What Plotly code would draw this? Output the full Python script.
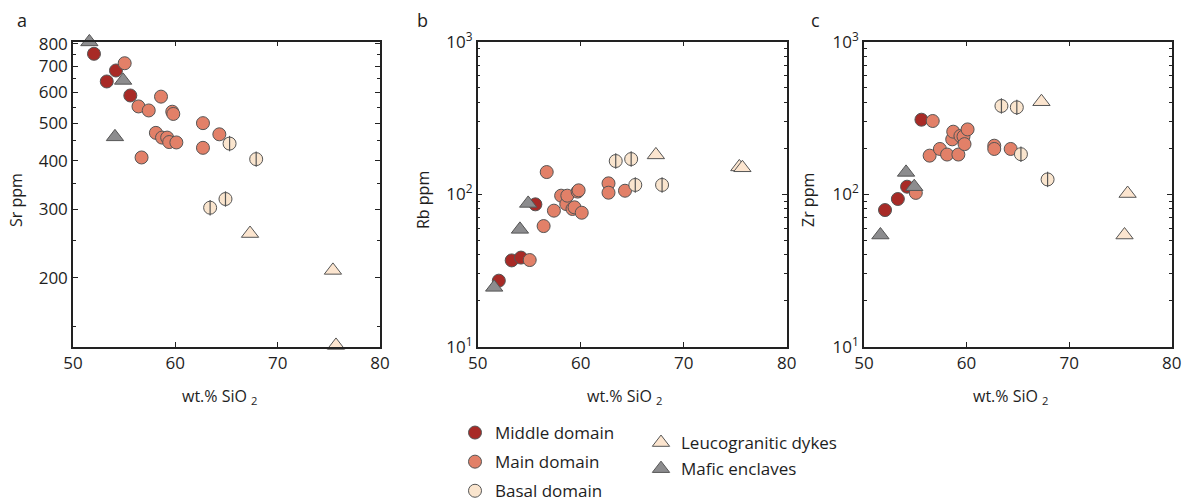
import numpy as np
import plotly.graph_objects as go

# ---------------- data ----------------
middle_sio2 = [52.05, 53.3, 54.2, 55.6]
middle_sr = [754, 640, 683, 589]
middle_rb = [27.1, 36.8, 38.4, 85.8]
middle_zr = [78.7, 93, 112, 308]

main_sio2 = [55.05, 56.4, 56.7, 57.4, 58.1, 58.6, 58.7, 59.2, 59.4, 59.7, 59.8, 60.1, 62.7, 62.7, 64.3]
main_sr = [713, 552, 408, 539, 472, 585, 459, 459, 447, 535, 528, 446, 500, 432, 468]
main_rb = [37, 61.8, 139.7, 78, 97.8, 86.2, 97.8, 80, 82, 104, 106, 75.6, 117.8, 102.3, 105.4]
main_zr = [102, 179, 302, 198, 182, 229, 257, 182, 241, 239, 213, 266, 208, 198, 198]

basal_sio2 = [63.4, 64.9, 65.3, 67.9]
basal_sr = [303, 319, 443, 404]
basal_rb = [165, 170, 115, 115]
basal_zr = [379, 371, 183, 125]

leuco_sio2 = [67.3, 75.4, 75.7]
leuco_sr = [260, 209, 134]
leuco_rb = [181, 151, 149]
leuco_zr = [404, 54, 101]

mafic_sio2 = [51.6, 54.1, 54.9]
mafic_sr = [809, 461, 644]
mafic_rb = [24.5, 58.8, 87]
mafic_zr = [54, 139, 112]

panel_labels = ["a", "b", "c"]
y_titles = ["Sr ppm", "Rb ppm", "Zr ppm"]
x_title = "wt.% SiO <sub>2</sub>"
x_ticks = [50, 60, 70, 80]
sr_major = [200, 300, 400, 500, 600, 700, 800]
sr_minor = [150, 250, 350, 450, 550, 650, 750]
log_major = [10, 100, 1000]
log_major_text = ["10<sup>1</sup>", "10<sup>2</sup>", "10<sup>3</sup>"]
log_minor = [20, 30, 40, 50, 60, 70, 80, 90, 200, 300, 400, 500, 600, 700, 800, 900]

# ---------------- styles ----------------
FONT = "Open Sans"
TXT = "#1e1e1e"
EDGE = "#555555"
C_MIDDLE = "rgb(168,42,38)"
C_MAIN = "rgb(226,128,104)"
C_BASAL = "rgb(250,229,206)"
C_LEUCO = "rgb(252,229,207)"
C_MAFIC = "rgb(140,140,142)"
MS = 13

W, H = 1194, 502
x_px = [(73, 380), (477.7, 786.7), (864, 1171.7)]
x_doms = [[a / W, b / W] for a, b in x_px]
y_dom = [1 - 346.7 / H, 1 - 41.7 / H]

fig = go.Figure()

groups = [
    ("Middle domain", middle_sio2, [middle_sr, middle_rb, middle_zr], "circle", C_MIDDLE, "legend"),
    ("Main domain", main_sio2, [main_sr, main_rb, main_zr], "circle", C_MAIN, "legend"),
    ("Basal domain", basal_sio2, [basal_sr, basal_rb, basal_zr], "circle", C_BASAL, "legend"),
    ("Leucogranitic dykes", leuco_sio2, [leuco_sr, leuco_rb, leuco_zr], "triangle-up", C_LEUCO, "legend2"),
    ("Mafic enclaves", mafic_sio2, [mafic_sr, mafic_rb, mafic_zr], "triangle-up", C_MAFIC, "legend2"),
]

for p in range(3):
    xa = "x" if p == 0 else f"x{p+1}"
    ya = "y" if p == 0 else f"y{p+1}"
    for name, xs, ys, sym, col, leg in groups:
        size = MS + 2 if sym.startswith("triangle") else MS
        fig.add_trace(go.Scatter(
            x=xs, y=ys[p], mode="markers", name=name, legendgroup=name,
            showlegend=(p == 0), legend=leg, xaxis=xa, yaxis=ya, cliponaxis=False,
            marker=dict(symbol=sym, size=size, color=col, line=dict(color=EDGE, width=1)),
        ))
        if name == "Basal domain":
            fig.add_trace(go.Scatter(
                x=xs, y=ys[p], mode="markers", name=name, legendgroup=name,
                showlegend=False, xaxis=xa, yaxis=ya, cliponaxis=False, hoverinfo="skip",
                marker=dict(symbol="line-ns", size=MS - 2, color=EDGE, line=dict(color=EDGE, width=1.2)),
            ))

axis_common = dict(
    showline=True, linecolor="#222222", linewidth=1.5, mirror="allticks",
    ticks="inside", ticklen=5, tickwidth=1, tickcolor="#222222",
    showgrid=False, zeroline=False, automargin=False,
    tickfont=dict(family=FONT, size=17, color=TXT),
)

layout = dict(
    template="simple_white",
    width=W, height=H, margin=dict(l=0, r=0, t=0, b=0, autoexpand=False),
    paper_bgcolor="white", plot_bgcolor="white",
    font=dict(family=FONT, color=TXT),
    legend=dict(x=455 / W, y=1 - 415 / H, xanchor="left", yanchor="top",
                font=dict(family=FONT, size=17, color=TXT), tracegroupgap=4,
                bgcolor="rgba(0,0,0,0)"),
    legend2=dict(x=641 / W, y=1 - 425 / H, xanchor="left", yanchor="top",
                 font=dict(family=FONT, size=17, color=TXT), tracegroupgap=1,
                 bgcolor="rgba(0,0,0,0)"),
)

annotations = []
for p in range(3):
    xk = "xaxis" if p == 0 else f"xaxis{p+1}"
    yk = "yaxis" if p == 0 else f"yaxis{p+1}"
    ya = "y" if p == 0 else f"y{p+1}"
    xa = "x" if p == 0 else f"x{p+1}"
    layout[xk] = dict(axis_common, domain=x_doms[p], range=[50, 80], tickvals=x_ticks, anchor=ya)
    if p == 0:
        layout[yk] = dict(axis_common, domain=y_dom, type="log",
                          range=[np.log10(133), np.log10(810)],
                          tickvals=sr_major, ticktext=[str(v) for v in sr_major], anchor=xa,
                          minor=dict(ticks="inside", ticklen=3, tickvals=sr_minor, tickcolor="#222222"))
    else:
        layout[yk] = dict(axis_common, domain=y_dom, type="log", range=[1, 3],
                          tickvals=log_major, ticktext=log_major_text, anchor=xa,
                          minor=dict(ticks="inside", ticklen=3, tickvals=log_minor, tickcolor="#222222"))

label_x = [22, 422, 815]
title_x = [16, 423, 808]
for p in range(3):
    annotations.append(dict(text=panel_labels[p], x=label_x[p] / W, y=1 - 20 / H, xref="paper", yref="paper",
                            showarrow=False, font=dict(family=FONT, size=18, color=TXT),
                            xanchor="center", yanchor="middle"))
    annotations.append(dict(text=y_titles[p], x=title_x[p] / W, y=1 - 200 / H, xref="paper", yref="paper",
                            showarrow=False, textangle=-90, font=dict(family=FONT, size=16, color=TXT),
                            xanchor="center", yanchor="middle"))
    cx = (x_px[p][0] + x_px[p][1]) / 2 - 7
    annotations.append(dict(text=x_title, x=cx / W, y=1 - 396 / H, xref="paper", yref="paper",
                            showarrow=False, font=dict(family=FONT, size=16, color=TXT),
                            xanchor="center", yanchor="middle"))
layout["annotations"] = annotations

fig.update_layout(**layout)
fig.write_html("out.html")
